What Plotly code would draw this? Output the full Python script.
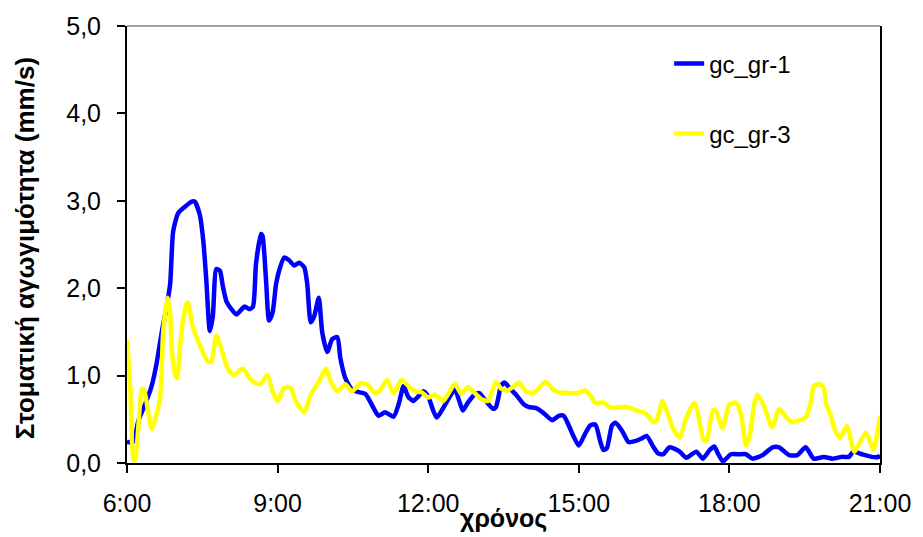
import plotly.graph_objects as go

# ---- data (time in decimal hours, values in mm/s) ----
gr1_hours = [6.00, 6.12, 6.23, 6.36, 6.49, 6.59, 6.69, 6.79, 6.86, 6.92, 7.02, 7.15, 7.29, 7.35, 7.45, 7.52,
             7.58, 7.65, 7.71, 7.78, 7.85, 7.91, 7.98, 8.08, 8.18, 8.34, 8.44, 8.51, 8.57, 8.67, 8.70, 8.77,
             8.83, 8.90, 8.97, 9.03, 9.13, 9.23, 9.33, 9.43, 9.53, 9.59, 9.66, 9.73, 9.82, 9.89, 9.99, 10.09,
             10.19, 10.25, 10.35, 10.48, 10.62, 10.75, 10.91, 11.01, 11.14, 11.31, 11.41, 11.51, 11.60, 11.70,
             11.80, 11.90, 12.00, 12.10, 12.17, 12.30, 12.43, 12.53, 12.63, 12.69, 12.79, 12.92, 13.02, 13.12,
             13.29, 13.35, 13.45, 13.52, 13.62, 13.75, 13.91, 14.01, 14.14, 14.28, 14.47, 14.60, 14.70, 14.80,
             14.90, 15.00, 15.13, 15.23, 15.33, 15.43, 15.49, 15.56, 15.66, 15.73, 15.86, 15.99, 16.12, 16.25,
             16.35, 16.48, 16.58, 16.68, 16.81, 17.01, 17.14, 17.34, 17.47, 17.61, 17.70, 17.77, 17.87, 18.03,
             18.20, 18.33, 18.46, 18.66, 18.86, 18.99, 19.19, 19.35, 19.52, 19.68, 19.88, 20.05, 20.24, 20.38,
             20.47, 20.64, 20.84, 20.97, 21.00]
gr1_values = [0.24, 0.24, 0.49, 0.67, 0.88, 1.14, 1.49, 1.79, 2.05, 2.65, 2.86, 2.93, 2.99, 2.99, 2.84, 2.54,
              2.09, 1.51, 1.68, 2.22, 2.20, 2.02, 1.85, 1.76, 1.70, 1.79, 1.76, 1.79, 2.28, 2.62, 2.60, 2.09,
              1.63, 1.72, 2.05, 2.20, 2.35, 2.32, 2.26, 2.29, 2.24, 2.05, 1.61, 1.68, 1.89, 1.49, 1.27, 1.42,
              1.44, 1.20, 0.97, 0.84, 0.81, 0.79, 0.63, 0.54, 0.58, 0.53, 0.67, 0.88, 0.76, 0.71,
              0.76, 0.82, 0.76, 0.60, 0.52, 0.63, 0.76, 0.84, 0.69, 0.60, 0.69, 0.78, 0.80, 0.73,
              0.62, 0.64, 0.88, 0.92, 0.86, 0.78, 0.67, 0.64, 0.63, 0.58, 0.49, 0.54, 0.54, 0.43,
              0.30, 0.20, 0.34, 0.43, 0.44, 0.24, 0.15, 0.17, 0.43, 0.46, 0.37, 0.24, 0.25, 0.28,
              0.31, 0.19, 0.11, 0.10, 0.18, 0.13, 0.06, 0.13, 0.05, 0.15, 0.19, 0.11, 0.02, 0.10,
              0.10, 0.10, 0.05, 0.09, 0.18, 0.18, 0.09, 0.09, 0.18, 0.05, 0.07, 0.05, 0.07, 0.07,
              0.13, 0.10, 0.07, 0.07, 0.09]

gr3_hours = [6.00, 6.065, 6.13, 6.16, 6.30, 6.34, 6.49, 6.59, 6.66, 6.69, 6.72, 6.81, 6.86, 6.89, 6.96, 7.00,
             7.05, 7.12, 7.19, 7.22, 7.29, 7.35, 7.48, 7.61, 7.68, 7.78, 7.88, 7.98, 8.04, 8.14, 8.31, 8.44,
             8.57, 8.67, 8.80, 8.90, 9.00, 9.13, 9.26, 9.36, 9.53, 9.66, 9.82, 9.96, 10.06, 10.19, 10.35, 10.48,
             10.65, 10.78, 10.94, 11.04, 11.18, 11.31, 11.47, 11.64, 11.74, 11.87, 12.00, 12.13, 12.30, 12.43,
             12.53, 12.66, 12.79, 12.89, 13.06, 13.19, 13.25, 13.35, 13.45, 13.58, 13.71, 13.81, 13.95, 14.08,
             14.18, 14.34, 14.47, 14.60, 14.77, 14.97, 15.13, 15.23, 15.33, 15.49, 15.59, 15.69, 15.82, 15.96,
             16.15, 16.35, 16.48, 16.55, 16.67, 16.75, 16.88, 17.01, 17.14, 17.31, 17.37, 17.49, 17.55, 17.67,
             17.73, 17.86, 18.00, 18.13, 18.23, 18.33, 18.40, 18.50, 18.56, 18.69, 18.85, 18.99, 19.12, 19.24,
             19.39, 19.52, 19.62, 19.68, 19.81, 19.88, 19.93, 20.01, 20.11, 20.21, 20.34, 20.49, 20.64, 20.72,
             20.87, 21.00]
gr3_values = [1.42, 0.86, 0.03, 0.03, 0.85, 0.84, 0.39, 0.56, 0.75, 1.05, 1.49, 1.89, 1.72, 1.31, 1.01, 0.97,
              1.31, 1.64, 1.83, 1.83, 1.61, 1.49, 1.31, 1.16, 1.16, 1.46, 1.31, 1.12, 1.05, 1.01, 1.08, 0.97,
              0.91, 0.91, 1.01, 0.82, 0.71, 0.86, 0.86, 0.71, 0.58, 0.78, 0.93, 1.08, 0.93, 0.82, 0.90, 0.82,
              0.91, 0.90, 0.80, 0.83, 0.95, 0.80, 0.95, 0.86, 0.82, 0.81, 0.75, 0.78, 0.71, 0.82,
              0.91, 0.79, 0.87, 0.82, 0.73, 0.71, 0.78, 0.93, 0.85, 0.83, 0.88, 0.92, 0.82, 0.80,
              0.84, 0.93, 0.85, 0.81, 0.80, 0.80, 0.83, 0.77, 0.69, 0.69, 0.65, 0.63, 0.64, 0.64,
              0.60, 0.56, 0.47, 0.49, 0.71, 0.60, 0.39, 0.29, 0.52, 0.69, 0.58, 0.26, 0.26, 0.60,
              0.60, 0.40, 0.67, 0.69, 0.56, 0.20, 0.30, 0.69, 0.78, 0.65, 0.41, 0.62, 0.53, 0.47,
              0.49, 0.52, 0.69, 0.88, 0.90, 0.86, 0.67, 0.56, 0.37, 0.29, 0.42, 0.13, 0.28, 0.35,
              0.16, 0.54]

x_tick_vals = [6, 9, 12, 15, 18, 21]
x_tick_text = ["6:00", "9:00", "12:00", "15:00", "18:00", "21:00"]
y_tick_vals = [0, 1, 2, 3, 4, 5]

series_names = ["gc_gr-1", "gc_gr-3"]
x_title = "χρόνος"
y_title = "Στοματική αγωγιμότητα (mm/s)"

FONT = "Arial, 'Liberation Sans', sans-serif"

fig = go.Figure()
fig.add_trace(go.Scatter(x=gr1_hours, y=gr1_values, mode="lines", name=series_names[0],
                         legendgroup="a",
                         line=dict(color="#0000FF", width=4.5, shape="spline", smoothing=0.6)))
fig.add_trace(go.Scatter(x=gr3_hours, y=gr3_values, mode="lines", name=series_names[1],
                         legendgroup="b",
                         line=dict(color="#FFFF00", width=4.5, shape="spline", smoothing=0.6)))

fig.update_layout(
    width=923, height=537,
    margin=dict(l=127, r=36, t=17, b=74),
    paper_bgcolor="white", plot_bgcolor="white",
    separators=",.",
    font=dict(family=FONT, size=25, color="black"),
    showlegend=True,
    legend=dict(x=0.72, y=0.965, xanchor="left", yanchor="top",
                traceorder="grouped", tracegroupgap=36,
                bgcolor="rgba(0,0,0,0)", font=dict(family=FONT, size=24, color="black")),
    xaxis=dict(range=[6, 21], tickvals=x_tick_vals, ticktext=x_tick_text,
               showgrid=False, zeroline=False, showline=True, linecolor="black", linewidth=2,
               ticks="outside", ticklen=8, tickwidth=1.5, tickcolor="black",
               ticklabelstandoff=9, tickfont=dict(family=FONT, size=25)),
    yaxis=dict(range=[0, 5], tickvals=y_tick_vals, tickformat=".1f",
               showgrid=False, zeroline=False, showline=True, linecolor="black", linewidth=2,
               mirror=True,
               ticks="outside", ticklen=8, tickwidth=1.5, tickcolor="black",
               ticklabelstandoff=11, tickfont=dict(family=FONT, size=25)),
    shapes=[dict(type="line", xref="paper", yref="paper", x0=0, x1=1, y0=1, y1=1,
                 line=dict(color="#808080", width=1.5))],
    annotations=[
        dict(text="<b>" + x_title + "</b>", xref="paper", yref="paper", x=0.5, y=-0.127,
             xanchor="center", yanchor="middle", showarrow=False,
             font=dict(family=FONT, size=25, color="black")),
        dict(text="<b>" + y_title + "</b>", xref="paper", yref="paper", x=-0.1345, y=0.491,
             xanchor="center", yanchor="middle", showarrow=False, textangle=-90,
             font=dict(family=FONT, size=26, color="black")),
    ],
)

fig.write_html("out.html")
